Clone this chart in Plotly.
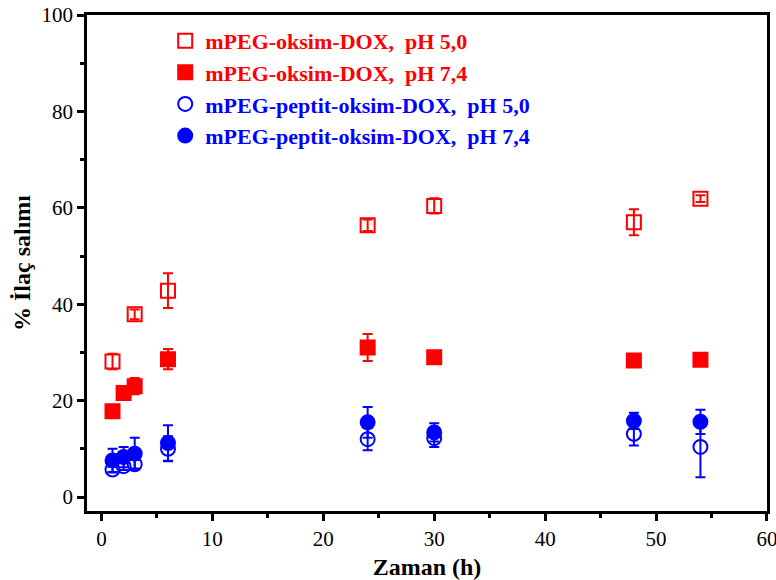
import plotly.graph_objects as go

# Release time points (h)
time_h = [1, 2, 3, 6, 24, 30, 48, 54]

# mPEG-oksim-DOX
oksim_ph50 = [28.1, None, 37.9, 42.8, 56.4, 60.4, 57.0, 61.9]
oksim_ph50_err = [1.6, None, 1.0, 3.6, 1.2, 1.6, 2.7, 0.7]
oksim_ph74 = [17.8, 21.6, 23.0, 28.6, 31.0, 29.0, 28.3, 28.5]
oksim_ph74_err = [0.5, 0.6, 1.7, 2.1, 2.8, 0.8, 0.6, 1.3]

# mPEG-peptit-oksim-DOX
peptit_ph50 = [5.7, 6.4, 6.8, 10.0, 12.0, 12.2, 13.1, 10.4]
peptit_ph50_err = [0.6, 0.8, 0.9, 2.6, 2.3, 1.8, 2.4, 6.3]
peptit_ph74 = [7.6, 8.3, 9.0, 11.2, 15.5, 13.4, 15.8, 15.6]
peptit_ph74_err = [2.4, 2.1, 3.3, 3.7, 3.2, 1.9, 1.7, 2.5]

RED = "#FF0000"
BLUE = "#0000FF"
SERIF = "Liberation Serif, Times New Roman, serif"


def label(text, color):
    return f"<b><span style='color:{color}'>{text}</span></b>"


def series(y, err, name, color, symbol):
    xs = [t for t, v in zip(time_h, y) if v is not None]
    ys = [v for v in y if v is not None]
    es = [e for e, v in zip(err, y) if v is not None]
    return go.Scatter(
        x=xs, y=ys, mode="markers", name=label(name, color),
        marker=dict(symbol=symbol, size=14, color=color,
                    line=dict(color=color, width=2)),
        error_y=dict(type="data", array=es, visible=True,
                     color=color, thickness=2, width=5),
    )


fig = go.Figure()
fig.add_trace(series(oksim_ph50, oksim_ph50_err,
                     "mPEG-oksim-DOX,&nbsp;&nbsp;pH 5,0", RED, "square-open"))
fig.add_trace(series(oksim_ph74, oksim_ph74_err,
                     "mPEG-oksim-DOX,&nbsp;&nbsp;pH 7,4", RED, "square"))
fig.add_trace(series(peptit_ph50, peptit_ph50_err,
                     "mPEG-peptit-oksim-DOX,&nbsp;&nbsp;pH 5,0", BLUE, "circle-open"))
fig.add_trace(series(peptit_ph74, peptit_ph74_err,
                     "mPEG-peptit-oksim-DOX,&nbsp;&nbsp;pH 7,4", BLUE, "circle"))

axis_common = dict(
    showgrid=False, zeroline=False, showline=True, linecolor="black",
    linewidth=2.5, mirror=True, ticks="outside", ticklen=7, tickwidth=2.5,
    tickcolor="black", automargin=False, ticklabeloverflow="allow",
    tickfont=dict(family=SERIF, size=21, color="black"),
)

fig.update_xaxes(
    range=[-1.3, 60.001], tick0=0, dtick=10,
    minor=dict(ticks="outside", ticklen=4, tickwidth=2.5, dtick=5, tick0=0,
               tickcolor="black"),
    title=dict(text="<b>Zaman (h)</b>", font=dict(family=SERIF, size=24, color="black"),
               standoff=10),
    **axis_common,
)
fig.update_yaxes(
    range=[-2.9, 100], tick0=0, dtick=20,
    minor=dict(ticks="outside", ticklen=4, tickwidth=2.5, dtick=10, tick0=0,
               tickcolor="black"),
    title=dict(text="<b>% İlaç salımı</b>", font=dict(family=SERIF, size=24, color="black"),
               standoff=5),
    **axis_common,
)

fig.update_layout(
    width=776, height=580,
    margin=dict(l=87, r=9, t=15, b=69),
    paper_bgcolor="white", plot_bgcolor="white",
    font=dict(family=SERIF, color="black"),
    legend=dict(x=0.115, y=0.99, xanchor="left", yanchor="top",
                bgcolor="rgba(0,0,0,0)", font=dict(family=SERIF, size=22),
                itemsizing="trace", tracegroupgap=0),
)

fig.write_html("out.html")
